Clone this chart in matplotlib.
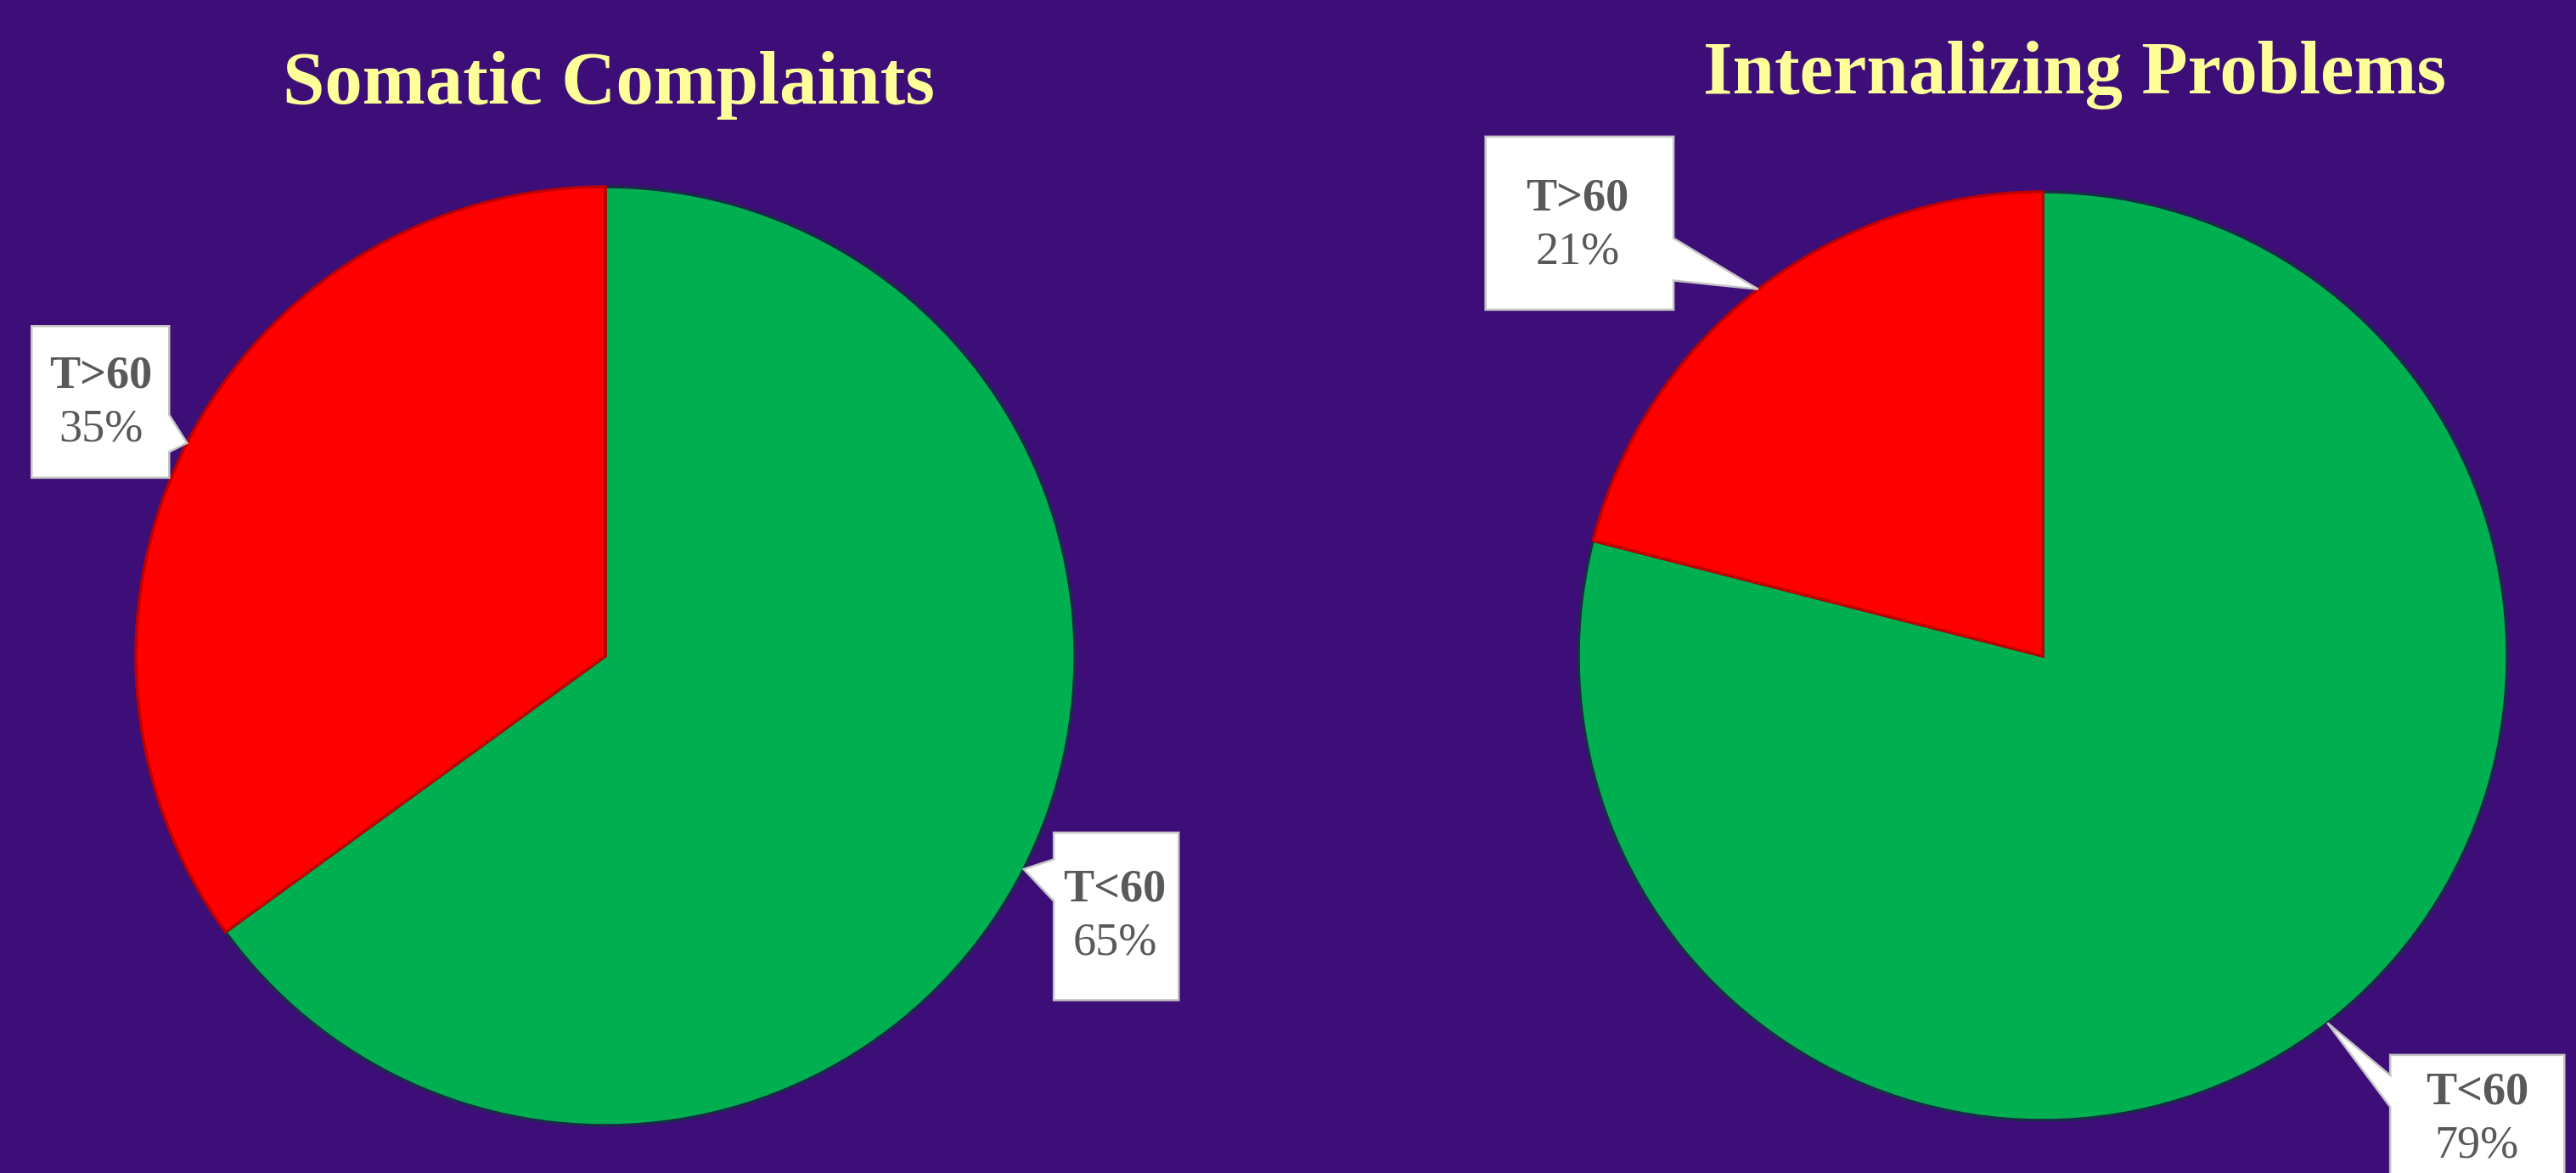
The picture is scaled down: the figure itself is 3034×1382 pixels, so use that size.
import numpy as np
import matplotlib.pyplot as plt
from matplotlib.patches import Polygon

# Data
titles = ["Somatic Complaints", "Internalizing Problems"]
categories = ["T<60", "T>60"]
somatic_values = [65, 35]
internalizing_values = [79, 21]

W, H = 3034, 1382
bg = '#3d0d78'
slice_colors = ['#00B050', '#FF0000']
slice_edges = ['#1c2b4b', '#c00000']
label_grey = '#595959'

plt.rcParams['font.family'] = ['Liberation Serif', 'DejaVu Serif']

fig = plt.figure(figsize=(W / 100, H / 100), dpi=100)
fig.patch.set_facecolor(bg)

# pie centre / radius in pixels (y from top)
pies = [
    dict(values=somatic_values, cx=713, cy=773, r=553, title_xy=(717, 122)),
    dict(values=internalizing_values, cx=2406, cy=773, r=547, title_xy=(2444, 110)),
]

# callout boxes in pie-radius units: (x0, x1, y0, y1), side of pointer, pointer base, text centre
callouts = [
    {
        "T<60": dict(box=(0.955, 1.221, -0.733, -0.376), side='left', base=(-0.522, -0.433), txt=(1.085, -0.555)),
        "T>60": dict(box=(-1.222, -0.929, 0.380, 0.703), side='right', base=(0.435, 0.514), txt=(-1.075, 0.539)),
    },
    {
        "T<60": dict(box=(0.748, 1.123, -1.23, -0.859), side='left', base=(-0.971, -0.903), txt=(0.935, -0.998)),
        "T>60": dict(box=(-1.200, -0.795, 0.746, 1.119), side='right', base=(0.809, 0.900), txt=(-1.002, 0.927)),
    },
]

L = 1.6


def callout_poly(box, side, base, tip):
    x0, x1, y0, y1 = box
    b0, b1 = base
    if side == 'right':
        pts = [(x0, y1), (x1, y1), (x1, b1), tip, (x1, b0), (x1, y0), (x0, y0)]
    else:
        pts = [(x0, y1), (x1, y1), (x1, y0), (x0, y0), (x0, b0), tip, (x0, b1)]
    return pts


for p, title, cal in zip(pies, titles, callouts):
    size = 2 * L * p['r']
    ax = fig.add_axes([(p['cx'] - L * p['r']) / W, (H - p['cy'] - L * p['r']) / H,
                       size / W, size / H])
    ax.set_facecolor('none')
    wedges, _ = ax.pie(p['values'], colors=slice_colors, startangle=90, counterclock=False,
                       radius=1.0, wedgeprops=dict(linewidth=2.5))
    for w, ec in zip(wedges, slice_edges):
        w.set_edgecolor(ec)
    ax.set_xlim(-L, L)
    ax.set_ylim(-L, L)
    ax.axis('off')

    total = sum(p['values'])
    start = 90.0
    unit_px = p['r']
    for cat, v in zip(categories, p['values']):
        end = start - 360.0 * v / total
        mid = np.radians((start + end) / 2)
        start = end
        c = cal[cat]
        tip = (np.cos(mid), np.sin(mid))
        poly = Polygon(callout_poly(c['box'], c['side'], c['base'], tip), closed=True,
                       facecolor='white', edgecolor='#c4c4c4', linewidth=1.8,
                       clip_on=False, zorder=5)
        ax.add_patch(poly)
        tx, ty = c['txt']
        dy = 31.5 / unit_px
        ax.text(tx, ty + dy, cat, ha='center', va='center', fontsize=39,
                fontweight='bold', color=label_grey, zorder=6, clip_on=False)
        ax.text(tx, ty - dy, f"{v}%", ha='center', va='center', fontsize=39,
                color=label_grey, zorder=6, clip_on=False)

    fig.text(p['title_xy'][0] / W, 1 - p['title_xy'][1] / H, title, ha='center',
             va='baseline', fontsize=64, fontweight='bold', color='#FFFF99')

fig.savefig('out.png', dpi=100, facecolor=bg)
